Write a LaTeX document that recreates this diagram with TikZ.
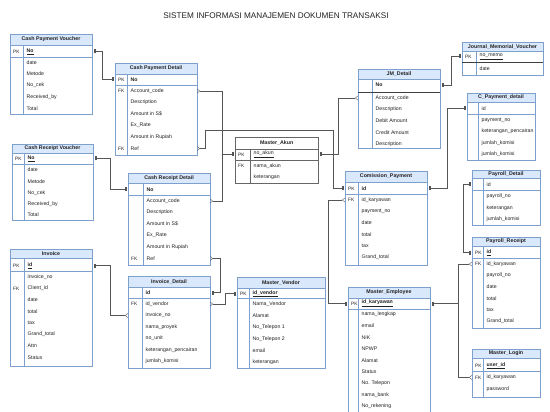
\documentclass[tikz,border=0pt]{standalone}
\usepackage{fontspec}
\setmainfont{Liberation Sans}
\usetikzlibrary{arrows.meta}
\definecolor{hdrfill}{HTML}{DAE8FC}
\definecolor{bcol}{HTML}{7EA0CC}
\definecolor{ccol}{HTML}{555555}
\definecolor{tcol}{HTML}{222222}
\tikzset{
  tbody/.style={draw=bcol,fill=white,line width=0.35pt,inner sep=0pt,outer sep=0pt},
  thead/.style={draw=bcol,fill=hdrfill,line width=0.35pt,inner sep=0pt,outer sep=0pt,text=tcol,font=\fontsize{5.3}{6}\selectfont\bfseries},
  tline/.style={draw=bcol,line width=0.35pt},
  sline/.style={draw=black!75,line width=0.8pt},
  rowarea/.style={inner sep=0pt,outer sep=0pt,minimum height=8pt},
  ktext/.style={inner sep=0pt,text=tcol,font=\fontsize{4.8}{6}\selectfont},
  ftext/.style={inner sep=0pt,text=tcol,font=\fontsize{5.2}{6}\selectfont},
  conn/.style={draw=ccol,line width=0.4pt},
  one/.tip={Bar[width=4pt,line width=0.4pt,sep=0.8pt]Bar[width=4pt,line width=0.4pt,sep=1.5pt]},
  many/.tip={Straight Barb[reversed,length=2.5pt,width=4pt,line width=0.4pt]},
  title/.style={font=\fontsize{8.2}{9}\selectfont,text=tcol,inner sep=0pt}
}
% #1 name #2 L #3 R #4 top #5 header bottom #6 separator y #7 bottom #8 key divider x #9 title
\newcommand\ertab[9]{%
  \node[tbody,minimum width={#3-#2},minimum height={#7-#4},anchor=north west] (#1) at (#2,#4) {};
  \node[thead,minimum width={#3-#2},minimum height={#5-#4},anchor=north west] (#1-h) at (#2,#4) {#9};
  \draw[tline] (#2,#6) -- (#3,#6);
  \draw[tline] (#8,#5) -- (#8,#7);
  \gdef\kd{#8}\gdef\tl{#2}\gdef\tr{#3}}
% #1 name #2 y #3 key #4 field
\newcommand\errow[4]{%
  \node[rowarea,minimum width={\tr-\tl},anchor=west] (#1) at (\tl,#2) {};
  \node[ktext,anchor=west] (#1-k) at (\tl+3,#2) {#3};
  \node[ftext,anchor=west] (#1-f) at (\kd+3.5,#2) {#4};}
\begin{document}
\begin{tikzpicture}[x=1pt,y=-1pt]
\useasboundingbox[fill=white] (0,0) rectangle (550,412);
\node[title] (ttl) at (276,16) {SISTEM INFORMASI MANAJEMEN DOKUMEN TRANSAKSI};

% Cash Payment Voucher
\ertab{cpv}{10}{92}{34}{45}{57}{114}{23}{Cash Payment Voucher}
\errow{cpv-no}{51.5}{PK}{\textbf{\underline{No}}}
\errow{cpv-r2}{62.5}{}{date}
\errow{cpv-r3}{74}{}{Metode}
\errow{cpv-r4}{85.5}{}{No\_cek}
\errow{cpv-r5}{97}{}{Received\_by}
\errow{cpv-r6}{108.5}{}{Total}

% Cash Payment Detail
\ertab{cpd}{115}{197}{63}{74}{85}{155}{127}{Cash Payment Detail}
\errow{cpd-no}{79.5}{PK}{\textbf{No}}
\errow{cpd-acc}{91}{FK}{Account\_code}
\errow{cpd-r3}{102.5}{}{Description}
\errow{cpd-r4}{114}{}{Amount in S\$}
\errow{cpd-r5}{125.5}{}{Ex\_Rate}
\errow{cpd-r6}{137}{}{Amount in Rupiah}
\errow{cpd-ref}{148.5}{FK}{Ref}

% Cash Receipt Voucher
\ertab{crv}{12}{93}{144}{153}{164}{220}{24}{Cash Receipt Voucher}
\errow{crv-no}{158.5}{PK}{\textbf{\underline{No}}}
\errow{crv-r2}{170}{}{date}
\errow{crv-r3}{181.5}{}{Metode}
\errow{crv-r4}{193}{}{No\_cek}
\errow{crv-r5}{204.5}{}{Received\_by}
\errow{crv-r6}{215}{}{Total}

% Cash Receipt Detail
\ertab{crd}{128}{210}{173}{183}{195}{265}{143}{Cash Receipt Detail}
\errow{crd-no}{189.5}{}{\textbf{No}}
\errow{crd-acc}{201}{}{Account\_code}
\errow{crd-r3}{212.5}{}{Description}
\errow{crd-r4}{224}{}{Amount in S\$}
\errow{crd-r5}{235.5}{}{Ex\_Rate}
\errow{crd-r6}{247}{}{Amount in Rupiah}
\errow{crd-ref}{258.5}{FK}{Ref}

% Invoice
\ertab{inv}{10}{92}{249}{258}{271}{366}{24}{Invoice}
\errow{inv-id}{265.5}{PK}{\textbf{\underline{id}}}
\errow{inv-r2}{277}{}{invoice\_no}
\errow{inv-r3}{288.5}{FK}{Client\_id}
\errow{inv-r4}{300}{}{date}
\errow{inv-r5}{311.5}{}{total}
\errow{inv-r6}{323}{}{tax}
\errow{inv-r7}{334.5}{}{Grand\_total}
\errow{inv-r8}{346}{}{Attn}
\errow{inv-r9}{357.5}{}{Status}

% Invoice_Detail
\ertab{ind}{128}{210}{276}{287}{298}{368}{142}{Invoice\_Detail}
\errow{ind-id}{292.5}{}{\textbf{id}}
\errow{ind-ven}{304}{FK}{id\_vendor}
\errow{ind-inv}{315.5}{}{invoice\_no}
\errow{ind-r4}{327}{}{nama\_proyek}
\errow{ind-r5}{338.5}{}{no\_unit}
\errow{ind-r6}{350}{}{keterangan\_pencairan}
\errow{ind-r7}{361.5}{}{jumlah\_komisi}

% Master_Akun (plain white header, grey frame)
\begin{scope}[bcol/.style={}]
\node[draw=black!60,fill=white,line width=0.35pt,inner sep=0pt,minimum width=83,minimum height=46,anchor=north west] (mak) at (235,137) {};
\node[draw=black!60,fill=white,line width=0.35pt,inner sep=0pt,minimum width=83,minimum height=12,anchor=north west,text=tcol,font=\fontsize{5.3}{6}\selectfont\bfseries] (mak-h) at (235,137) {Master\_Akun};
\draw[draw=black!60,line width=0.35pt] (235,160) -- (318,160);
\draw[draw=black!60,line width=0.35pt] (250,149) -- (250,183);
\end{scope}
\gdef\kd{250}\gdef\tl{235}\gdef\tr{318}
\errow{mak-no}{154.5}{PK}{\underline{no\_akun}}
\errow{mak-r2}{166}{FK}{nama\_akun}
\errow{mak-r3}{177.5}{}{keterangan}

% Master_Vendor
\ertab{mve}{237}{325}{277}{288}{298}{368}{249}{Master\_Vendor}
\errow{mve-id}{293.5}{PK}{\textbf{\underline{id\_vendor}}}
\errow{mve-r2}{304.5}{}{Nama\_Vendor}
\errow{mve-r3}{316}{}{Alamat}
\errow{mve-r4}{327.5}{}{No\_Telepon 1}
\errow{mve-r5}{339}{}{No\_Telepon 2}
\errow{mve-r6}{350.5}{}{email}
\errow{mve-r7}{362}{}{keterangan}

% JM_Detail
\ertab{jmd}{358}{440}{69}{79}{92}{148}{372}{JM\_Detail}
\draw[sline] (358,92) -- (440,92);
\errow{jmd-no}{85}{}{\textbf{No}}
\errow{jmd-acc}{98}{}{Account\_code}
\errow{jmd-r3}{109.5}{}{Description}
\errow{jmd-r4}{121}{}{Debit Amount}
\errow{jmd-r5}{132.5}{}{Credit Amount}
\errow{jmd-r6}{144}{}{Description}

% Comission_Payment
\ertab{cmp}{345}{427}{171}{182}{194}{265}{358}{Comission\_Payment}
\errow{cmp-id}{188.5}{PK}{\textbf{id}}
\errow{cmp-kar}{200}{FK}{id\_karyawan}
\errow{cmp-r3}{211.5}{}{payment\_no}
\errow{cmp-r4}{223}{}{date}
\errow{cmp-r5}{234.5}{}{total}
\errow{cmp-r6}{246}{}{tax}
\errow{cmp-r7}{257.5}{}{Grand\_total}

% Master_Employee
\ertab{mem}{348}{430}{287}{298}{309}{418}{358}{Master\_Employee}
\errow{mem-id}{303.5}{PK}{\textbf{\underline{id\_karyawan}}}
\errow{mem-r2}{314.5}{}{nama\_lengkap}
\errow{mem-r3}{326}{}{email}
\errow{mem-r4}{337.5}{}{NIK}
\errow{mem-r5}{349}{}{NPWP}
\errow{mem-r6}{360.5}{}{Alamat}
\errow{mem-r7}{372}{}{Status}
\errow{mem-r8}{383.5}{}{No. Telepon}
\errow{mem-r9}{395}{}{nama\_bank}
\errow{mem-r10}{406.5}{}{No\_rekening}

% Journal_Memorial_Voucher
\ertab{jmv}{462}{543}{42}{51}{62}{75}{476}{Journal\_Memorial\_Voucher}
\draw[sline] (462,62) -- (543,62);
\errow{jmv-no}{56.5}{PK}{\underline{no\_memo}}
\errow{jmv-r2}{68.5}{}{date}

% C_Payment_detail
\ertab{cpy}{467}{535}{93}{102}{114}{160}{478}{C\_Payment\_detail}
\errow{cpy-id}{108.5}{}{id}
\errow{cpy-r2}{120}{}{payment\_no}
\errow{cpy-r3}{131.5}{}{keterangan\_pencairan}
\errow{cpy-r4}{143}{}{jumlah\_komisi}
\errow{cpy-r5}{154.5}{}{jumlah\_komisi}

% Payroll_Detail
\ertab{prd}{472}{540}{170}{178}{190}{225}{483}{Payroll\_Detail}
\errow{prd-id}{184.5}{}{id}
\errow{prd-r2}{196.5}{}{payroll\_no}
\errow{prd-r3}{208}{}{keterangan}
\errow{prd-r4}{219.5}{}{jumlah\_komisi}

% Payroll_Receipt
\ertab{prr}{472}{540}{237}{246}{258}{328}{483}{Payroll\_Receipt}
\errow{prr-id}{252.5}{PK}{\textbf{\underline{id}}}
\errow{prr-kar}{264}{FK}{id\_karyawan}
\errow{prr-r3}{275.5}{}{payroll\_no}
\errow{prr-r4}{287}{}{date}
\errow{prr-r5}{298.5}{}{total}
\errow{prr-r6}{310}{}{tax}
\errow{prr-r7}{321.5}{}{Grand\_total}

% Master_Login
\ertab{mlg}{472}{540}{349}{358}{371}{397}{483}{Master\_Login}
\errow{mlg-id}{365.5}{PK}{\textbf{\underline{user\_id}}}
\errow{mlg-kar}{377.5}{FK}{id\_karyawan}
\errow{mlg-r3}{389.5}{}{password}

% connectors
\draw[conn,one-one] (cpv-no.east) -- ++(10,0) |- (cpd-no.west);
\draw[conn,many-one] (cpd-acc.east) -- (222,91) |- (mak-no.west);
\draw[conn,many-one] (crd-acc.east) -- (222,201) |- (mak-no.west);
\draw[conn,one-one] (crv-no.east) -- ++(17,0) |- (crd-no.west);
\draw[conn,many-one] (crd-ref.east) -- (220,258.5) |- (ind-id.east);
\draw[conn,one-many] (inv-id.east) -- ++(18,0) |- (ind-inv.west);
\draw[conn,many-one] (ind-ven.east) -- (225,304) |- (mve-id.west);
\draw[conn,many-one] (cpd-ref.east) -- (205,148.5) -- (205,130) -| (333,188.5) -- (cmp-id.west);
\draw[conn,one-many] (mak-no.east) -- (338,154.5) |- (jmd-acc.west);
\draw[conn,one-many] (mem-id.west) -- (328,303.5) |- (cmp-kar.west);
\draw[conn,one-one] (jmd-no.east) -- (451,85) |- (jmv-no.west);
\draw[conn,one-one] (cmp-id.east) -- (447,188.5) |- (cpy-id.west);
\draw[conn,one-many] (mem-id.east) -- (458,303.5) |- (prr-kar.west);
\draw[conn,one-many] (mem-id.east) -- (458,303.5) |- (mlg-kar.west);
\draw[conn,one-one] (prd-id.west) -- (463,184.5) |- (prr-id.west);
\end{tikzpicture}
\end{document}
